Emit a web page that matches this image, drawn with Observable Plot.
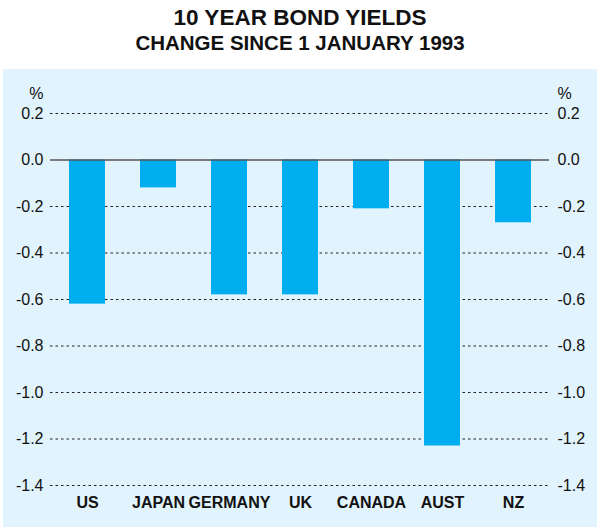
<!DOCTYPE html>
<html>
<head>
<meta charset="utf-8">
<script src="https://cdn.jsdelivr.net/npm/d3@7"></script>
<script src="https://cdn.jsdelivr.net/npm/@observablehq/plot@0.6"></script>
<style>
  body { margin: 0; background: #fff; }
  #wrap { width: 600px; font-family: "Liberation Sans", Arial, sans-serif; color: #111; }
  .t1 { text-align: center; font-weight: bold; font-size: 22.5px; line-height: 24px; padding-top: 6px; }
  .t2 { text-align: center; font-weight: bold; font-size: 20.5px; line-height: 25px; }
  #panel { margin-left: 3px; margin-top: 14px; width: 594px; height: 458px; background: #e1f3fc; }
</style>
</head>
<body>
<div id="wrap">
  <div class="t1">10 YEAR BOND YIELDS</div>
  <div class="t2">CHANGE SINCE 1 JANUARY 1993</div>
  <div id="panel"></div>
</div>
<script>
const countries = ["US", "JAPAN", "GERMANY", "UK", "CANADA", "AUST", "NZ"];
const changes = [-0.62, -0.12, -0.58, -0.58, -0.21, -1.23, -0.27];
const yTicks = [0.2, 0.0, -0.2, -0.4, -0.6, -0.8, -1.0, -1.2, -1.4];
const unitLabel = "%";

const data = countries.map((c, i) => ({country: c, change: changes[i]}));
const fmt = v => v.toFixed(1);

const chart = Plot.plot({
  width: 594,
  height: 458,
  marginTop: 44,
  marginBottom: 42,
  marginLeft: 47,
  marginRight: 48,
  style: {background: "transparent", fontSize: "16px", fontFamily: "'Liberation Sans', Arial, sans-serif", color: "#111"},
  x: {domain: countries, paddingInner: 0.5, paddingOuter: 0.25, label: null},
  y: {domain: [-1.4, 0.2], label: null},
  marks: [
    Plot.ruleY(yTicks.filter(d => d !== 0), {stroke: "#222", strokeDasharray: "2.5,3", strokeWidth: 1}),
    Plot.barY(data, {x: "country", y: "change", fill: "#00aeef"}),
    Plot.ruleY([0], {stroke: "#555", strokeWidth: 1.5}),
    Plot.axisY({anchor: "left", ticks: yTicks, tickFormat: fmt, tickSize: 0, tickPadding: 7, label: null}),
    Plot.axisY({anchor: "right", ticks: yTicks, tickFormat: fmt, tickSize: 0, tickPadding: 8, label: null}),
    Plot.axisX({anchor: "bottom", tickSize: 0, tickPadding: 11, fontWeight: "bold", fontSize: 16, label: null}),
    Plot.text([unitLabel], {frameAnchor: "top-left", dx: -7, dy: -26, textAnchor: "end", fontSize: 16}),
    Plot.text([unitLabel], {frameAnchor: "top-right", dx: 8, dy: -26, textAnchor: "start", fontSize: 16})
  ]
});
document.getElementById("panel").appendChild(chart);
</script>
</body>
</html>
